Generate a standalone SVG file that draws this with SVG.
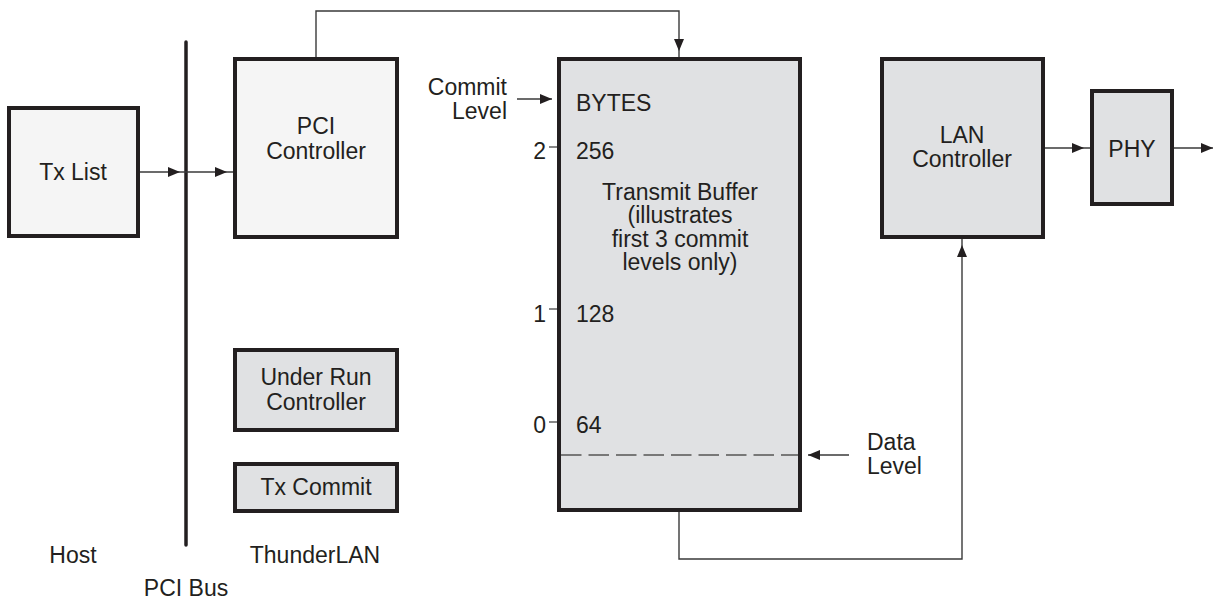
<svg xmlns="http://www.w3.org/2000/svg" width="1214" height="601" viewBox="0 0 1214 601">
<style>
text{font-family:"Liberation Sans",Arial,sans-serif;font-size:23px;fill:#231f20}
.c{text-anchor:middle}
.r{text-anchor:end}
.box{stroke:#231f20;stroke-width:4}
.light{fill:#f5f5f5}
.gray{fill:#e0e1e3}
.ln{fill:none;stroke:#3a3a3a;stroke-width:1.4}
.tick{stroke:#3a3a3a;stroke-width:1.2}
</style>
<defs>
<marker id="ag" markerUnits="userSpaceOnUse" markerWidth="20" markerHeight="12" refX="18" refY="5" orient="auto">
<path d="M0,0 L12,5 L0,10 z" fill="#231f20"/>
</marker>
<marker id="at" markerUnits="userSpaceOnUse" markerWidth="14" markerHeight="12" refX="12" refY="5" orient="auto">
<path d="M0,0 L12,5 L0,10 z" fill="#231f20"/>
</marker>
</defs>
<line x1="186" y1="42" x2="186" y2="545" stroke="#231f20" stroke-width="3.5" stroke-linecap="round"/>
<g id="txlist"><rect class="box light" x="9" y="108" width="129" height="128"/><text class="c" x="73" y="180">Tx List</text></g>
<g id="pcictl"><rect class="box light" x="235" y="59" width="162" height="178"/><text class="c" x="316" y="134">PCI</text><text class="c" x="316" y="158.5">Controller</text></g>
<g id="underrun"><rect class="box gray" x="235" y="350" width="162" height="80"/><text class="c" x="316" y="385">Under Run</text><text class="c" x="316" y="410">Controller</text></g>
<g id="txcommit"><rect class="box gray" x="235" y="464" width="162" height="47"/><text class="c" x="316" y="495">Tx Commit</text></g>
<g id="buffer"><rect class="box gray" x="559" y="59" width="241" height="451"/>
<line x1="561" y1="455" x2="798" y2="455" stroke="#555" stroke-width="1.3" stroke-dasharray="20.5 7"/>
<text x="576" y="111">BYTES</text>
<text x="576" y="159">256</text>
<text x="576" y="322">128</text>
<text x="576" y="433">64</text>
<text class="c" x="680" y="199.5">Transmit Buffer</text>
<text class="c" x="680" y="223">(illustrates</text>
<text class="c" x="680" y="246.5">first 3 commit</text>
<text class="c" x="680" y="270">levels only)</text>
</g>
<g id="levels">
<text class="r" x="546" y="159">2</text><line class="tick" x1="549" y1="147" x2="557" y2="147"/>
<text class="r" x="546" y="322">1</text><line class="tick" x1="549" y1="309" x2="557" y2="309"/>
<text class="r" x="546" y="433">0</text><line class="tick" x1="549" y1="422" x2="557" y2="422"/>
</g>
<g id="lanctl"><rect class="box gray" x="882" y="59" width="161" height="178"/><text class="c" x="962" y="143">LAN</text><text class="c" x="962" y="167">Controller</text></g>
<g id="phy"><rect class="box gray" x="1092" y="91" width="80" height="113"/><text class="c" x="1132" y="157">PHY</text></g>
<g id="labels">
<text class="r" x="507" y="95">Commit</text><text class="r" x="507" y="119">Level</text>
<text x="867" y="450">Data</text><text x="867" y="474">Level</text>
<text class="c" x="73" y="563">Host</text>
<text class="c" x="315" y="563">ThunderLAN</text>
<text class="c" x="186" y="596">PCI Bus</text>
</g>
<g id="connectors">
<path class="ln" d="M140,172 H186" marker-end="url(#ag)"/>
<path class="ln" d="M186,172 H233" marker-end="url(#ag)"/>
<path class="ln" d="M316,57 V11 H679 V57" marker-end="url(#ag)"/>
<path class="ln" d="M517,99 H552" marker-end="url(#at)"/>
<path class="ln" d="M849,455 H808" marker-end="url(#at)"/>
<path class="ln" d="M679,512 V559 H962 V239" marker-end="url(#ag)"/>
<path class="ln" d="M1045,148 H1090" marker-end="url(#ag)"/>
<path class="ln" d="M1174,148 H1213" marker-end="url(#at)"/>
</g>
</svg>
